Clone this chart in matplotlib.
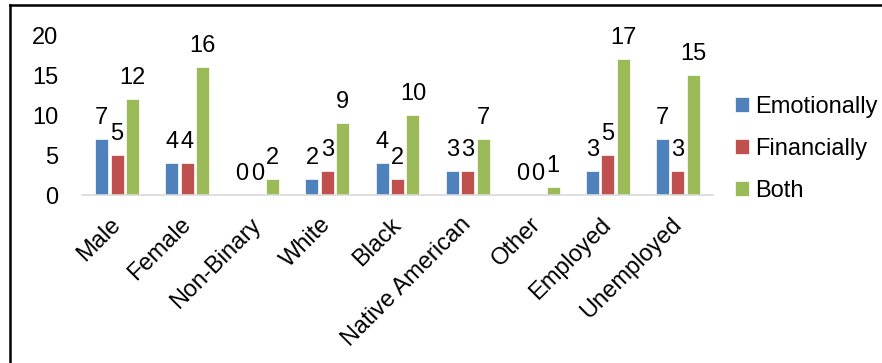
import matplotlib
matplotlib.use("Agg")
import matplotlib.pyplot as plt
import numpy as np
from matplotlib.lines import Line2D

plt.rcParams['font.family'] = ['Liberation Sans', 'DejaVu Sans']

categories = ["Male", "Female", "Non-Binary", "White", "Black",
              "Native American", "Other", "Employed", "Unemployed"]
emotionally = [7, 4, 0, 2, 4, 3, 0, 3, 7]
financially = [5, 4, 0, 3, 2, 3, 0, 5, 3]
both = [12, 16, 2, 9, 10, 7, 1, 17, 15]
series_names = ["Emotionally", "Financially", "Both"]
colors = ["#4F81BD", "#C0504D", "#9BBB59"]

FS = 17

fig = plt.figure(figsize=(8.82, 3.63), dpi=100)
ax = fig.add_axes([82/882, 1-195/363, (713-82)/882, 160/363])

x = np.arange(len(categories))
w = 0.185
step = 0.22
for i, (vals, name, c) in enumerate(zip([emotionally, financially, both], series_names, colors)):
    pos = x + (i - 1) * step
    ax.bar(pos, vals, width=w, color=c, label=name, edgecolor='white', linewidth=0.5)
    for p, v in zip(pos, vals):
        ax.text(p, v + 1.2, str(v), ha='center', va='bottom', fontsize=FS)

ax.set_xlim(-0.5, len(categories) - 0.5)
ax.set_ylim(0, 20)
ax.set_yticks([0, 5, 10, 15, 20])
ax.tick_params(axis='y', length=0, labelsize=FS, pad=17)
ax.tick_params(axis='x', length=0, labelsize=FS, pad=19)
ax.set_xticks(x)
ax.set_xticklabels(categories, rotation=45, ha='right', rotation_mode='anchor', va='center')
for s in ['top', 'right', 'left']:
    ax.spines[s].set_visible(False)
ax.spines['bottom'].set_color('#D9D9D9')
ax.spines['bottom'].set_linewidth(1.2)

leg = fig.legend(loc='center left', bbox_to_anchor=(735/882, 1-149/363), frameon=False,
                 fontsize=FS, handlelength=0.6, handleheight=0.6, handletextpad=0.25,
                 labelspacing=0.85, borderaxespad=0, borderpad=0)

# figure border (left and top)
fig.add_artist(Line2D([10/882, 10/882], [0, 1-5/363], transform=fig.transFigure, color='black', linewidth=1.8))
fig.add_artist(Line2D([10/882, 1], [1-5/363, 1-5/363], transform=fig.transFigure, color='black', linewidth=1.8))

fig.savefig("out.png", dpi=100)
